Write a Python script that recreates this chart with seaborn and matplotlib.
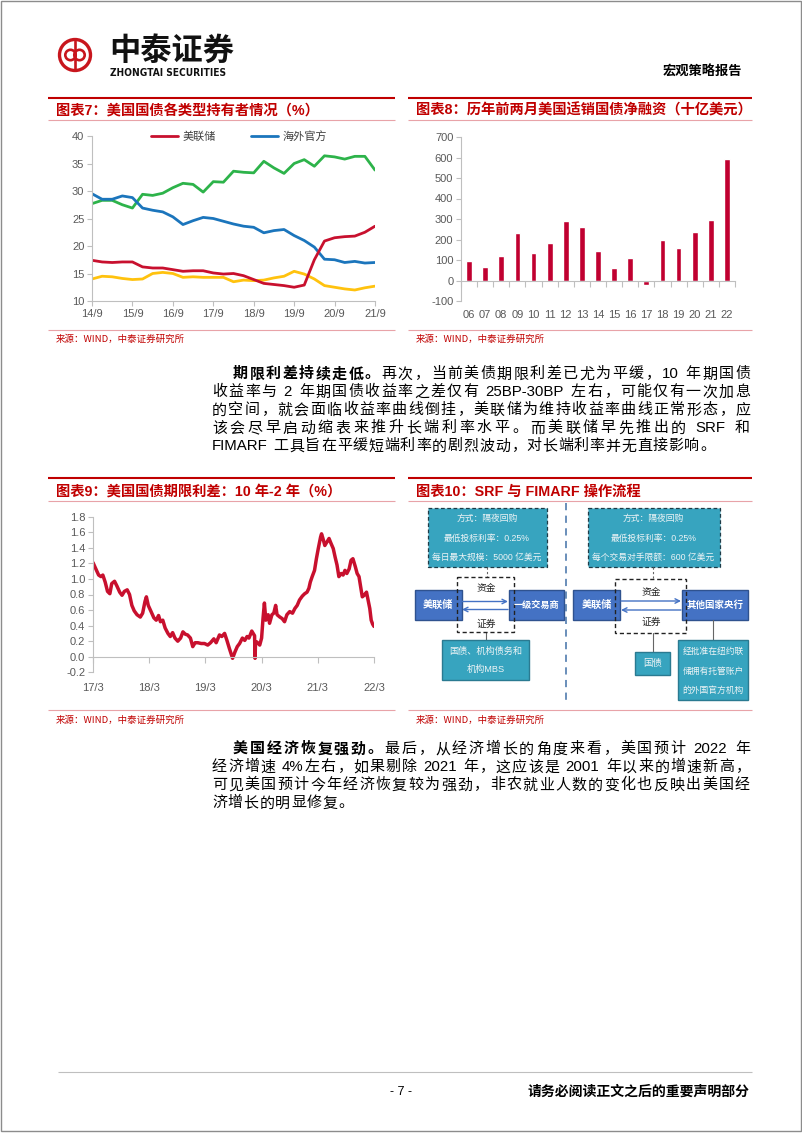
import re
import numpy as np
import pandas as pd
import matplotlib
matplotlib.use('Agg')
import matplotlib.pyplot as plt
import seaborn as sns
from matplotlib.patches import Rectangle, Circle

# ---------------- DATA ----------------
quarters7 = ['14/9', '14/12', '15/3', '15/6', '15/9', '15/12', '16/3', '16/6', '16/9', '16/12',
             '17/3', '17/6', '17/9', '17/12', '18/3', '18/6', '18/9', '18/12', '19/3', '19/6',
             '19/9', '19/12', '20/3', '20/6', '20/9', '20/12', '21/3', '21/6', '21/9']
fed7 = [17.4, 17.1, 17.0, 17.1, 17.1, 16.2, 16.0, 16.0, 15.7, 15.4, 15.5, 15.5, 15.1, 14.9, 15.0,
        14.6, 13.9, 13.2, 13.0, 12.8, 12.5, 12.9, 17.5, 20.9, 21.5, 21.7, 21.8, 22.5, 23.6]
foreign_official7 = [29.5, 28.5, 28.5, 29.1, 28.8, 26.9, 26.5, 26.2, 25.3, 23.9, 24.6, 25.2, 25.0, 24.5,
                     24.0, 23.6, 23.4, 22.4, 22.8, 23.0, 21.9, 21.0, 19.8, 17.6, 17.5, 17.0, 17.2, 16.9, 17.0]
other7 = [27.7, 28.3, 28.3, 27.5, 26.9, 29.4, 29.2, 29.6, 30.6, 31.4, 31.2, 29.8, 31.7, 31.6, 33.6,
          33.4, 33.3, 35.4, 34.2, 33.2, 35.0, 35.7, 34.5, 36.4, 36.2, 35.8, 36.3, 36.3, 33.8]
foreign_private7 = [14.0, 14.5, 14.4, 14.1, 13.9, 14.0, 15.0, 15.2, 15.0, 14.3, 14.4, 14.3, 14.3, 14.3,
                    13.5, 13.8, 13.7, 13.8, 14.2, 14.5, 15.4, 14.9, 14.0, 12.8, 12.5, 12.2, 12.0, 12.4, 12.7]
xticks7 = ['14/9', '15/9', '16/9', '17/9', '18/9', '19/9', '20/9', '21/9']
yticks7 = [10, 15, 20, 25, 30, 35, 40]

years8 = ['06', '07', '08', '09', '10', '11', '12', '13', '14', '15', '16', '17', '18', '19', '20', '21', '22']
net8 = [97, 67, 121, 230, 134, 185, 289, 262, 145, 63, 111, -20, 199, 160, 238, 293, 594]
yticks8 = [-100, 0, 100, 200, 300, 400, 500, 600, 700]

months9 = [0.0, 0.6, 1.2, 1.7, 2.1, 2.6, 3.1, 3.6, 4.0, 4.6,
           5.1, 5.7, 6.2, 6.7, 7.3, 7.8, 8.3, 8.8, 9.4, 10.1,
           10.6, 11.1, 11.4, 11.8, 12.4, 13.0, 13.5, 14.0, 14.4, 14.9,
           15.4, 16.0, 16.5, 17.0, 17.5, 18.1, 18.7, 19.2, 19.7, 20.2,
           20.8, 21.3, 21.8, 22.4, 23.1, 23.8, 24.5, 25.1, 25.8, 26.3,
           27.0, 27.5, 28.1, 28.6, 29.1, 29.8, 30.3, 30.8, 31.3, 31.9,
           32.4, 32.9, 33.3, 33.9, 34.5, 34.6, 34.7, 35.0, 35.6, 36.0,
           36.3, 36.6, 36.9, 37.4, 37.7, 38.2, 38.6, 39.0, 39.3, 39.9,
           40.4, 40.9, 41.4, 42.0, 42.6, 43.1, 43.6, 44.1, 44.7, 45.2,
           45.7, 46.1, 46.4, 46.8, 47.3, 47.7, 48.1, 48.6, 48.8, 49.1,
           49.5, 50.0, 50.4, 50.8, 51.3, 51.7, 52.1, 52.5, 53.0, 53.4,
           53.8, 54.2, 54.7, 55.1, 55.5, 56.0, 56.4, 56.8, 57.2, 57.5,
           57.9, 58.4, 58.8, 59.1, 59.4, 59.7, 60.0]
spread9 = [1.21, 1.13, 1.05, 1.03, 1.05, 0.96, 0.84, 0.81, 0.94, 0.97,
           0.91, 0.83, 0.79, 0.84, 0.86, 0.80, 0.66, 0.59, 0.54, 0.51,
           0.56, 0.71, 0.77, 0.66, 0.58, 0.50, 0.47, 0.53, 0.45, 0.47,
           0.37, 0.30, 0.26, 0.31, 0.24, 0.20, 0.24, 0.32, 0.29, 0.28,
           0.24, 0.13, 0.18, 0.18, 0.17, 0.17, 0.15, 0.18, 0.23, 0.18,
           0.28, 0.26, 0.30, 0.21, 0.11, -0.02, 0.06, 0.13, 0.17, 0.24,
           0.21, 0.26, 0.24, 0.33, 0.27, -0.02, 0.17, 0.19, 0.15, 0.24,
           0.49, 0.69, 0.47, 0.54, 0.43, 0.54, 0.56, 0.66, 0.54, 0.51,
           0.49, 0.45, 0.54, 0.58, 0.56, 0.62, 0.66, 0.73, 0.78, 0.81,
           0.83, 0.88, 0.96, 1.03, 1.11, 1.26, 1.39, 1.54, 1.58, 1.52,
           1.43, 1.48, 1.52, 1.46, 1.39, 1.28, 1.18, 1.03, 1.07, 1.05,
           1.11, 1.07, 1.13, 1.24, 1.26, 1.16, 1.07, 1.03, 0.88, 0.77,
           0.79, 0.83, 0.71, 0.62, 0.47, 0.42, 0.39]
xticks9 = ['17/3', '18/3', '19/3', '20/3', '21/3', '22/3']
yticks9 = [-0.2, 0.0, 0.2, 0.4, 0.6, 0.8, 1.0, 1.2, 1.4, 1.6, 1.8]

para1 = [
    [("期限利差持续走低。", "bold"), ("再次，当前美债期限利差已尤为平缓，10 年期国债", "normal")],
    [("收益率与 2 年期国债收益率之差仅有 25BP-30BP 左右，可能仅有一次加息", "normal")],
    [("的空间，就会面临收益率曲线倒挂，美联储为维持收益率曲线正常形态，应", "normal")],
    [("该会尽早启动缩表来推升长端利率水平。而美联储早先推出的 SRF 和", "normal")],
    [("FIMARF 工具旨在平缓短端利率的剧烈波动，对长端利率并无直接影响。", "normal")],
]
para2 = [
    [("美国经济恢复强劲。", "bold"), ("最后，从经济增长的角度来看，美国预计 2022 年", "normal")],
    [("经济增速 4%左右，如果剔除 2021 年，这应该是 2001 年以来的增速新高，", "normal")],
    [("可见美国预计今年经济恢复较为强劲，非农就业人数的变化也反映出美国经", "normal")],
    [("济增长的明显修复。", "normal")],
]

# ---------------- STYLE ----------------
sns.set_theme(style='white')
CJK = ['Noto Sans CJK SC', 'DejaVu Sans']
BODY = ['Liberation Sans', 'Noto Sans CJK SC', 'DejaVu Sans']
ARIAL = ['Liberation Sans', 'DejaVu Sans']
plt.rcParams['font.family'] = CJK
plt.rcParams['axes.unicode_minus'] = False

RED_T = '#C00000'
PINK = '#E8A3A8'
GRAY = '#BFBFBF'
TICKC = '#595959'
PX = 72 / 100.0  # points per pixel

W, H = 802, 1133
fig = plt.figure(figsize=(W / 100, H / 100), dpi=100)
fig.patch.set_facecolor('white')
pg = fig.add_axes([0, 0, 1, 1])
pg.set_xlim(0, W)
pg.set_ylim(H, 0)
pg.axis('off')
renderer = fig.canvas.get_renderer()


def add_axes_px(l, t, r, b):
    ax = fig.add_axes([l / W, 1 - b / H, (r - l) / W, (b - t) / H])
    ax.set_facecolor('none')
    return ax


def style_axes(ax):
    for s in ['top', 'right']:
        ax.spines[s].set_visible(False)
    for s in ['left', 'bottom']:
        ax.spines[s].set_color(GRAY)
        ax.spines[s].set_linewidth(0.8)
    ax.tick_params(axis='both', which='both', direction='out', color=GRAY, width=0.8,
                   length=3.5, labelsize=8, labelcolor=TICKC, pad=2,
                   left=True, bottom=True)
    ax.grid(False)
    ax.set_xlabel('')
    ax.set_ylabel('')


def hline(x0, x1, y, color, lw):
    pg.plot([x0, x1], [y, y], color=color, lw=lw, solid_capstyle='butt')


def panel_frame(x0, x1, ytop, ytitle, yline, ybot, ysrc, title):
    hline(x0, x1, ytop, RED_T, 1.5)
    pg.text(x0 + 8, ytitle, title, color=RED_T, fontsize=10.3, fontweight='bold',
            va='center', ha='left', family=BODY)
    hline(x0, x1, yline, PINK, 0.8)
    hline(x0, x1, ybot, PINK, 0.8)
    pg.text(x0 + 8, ysrc, "来源：WIND，中泰证券研究所", color=RED_T, fontsize=6.8,
            va='center', ha='left', family=CJK)


def put_line(segs, x0, x1, yc, size, justify, track=0.0):
    items = []
    for text, weight in segs:
        for tok in re.findall(r'[A-Za-z0-9%.\-]+| |.', text):
            items.append((tok, weight))
    objs, widths = [], []
    for tok, wgt in items:
        if tok == ' ':
            objs.append(None)
            widths.append(0.28 * size / PX)
            continue
        t = pg.text(0, yc + 0.36 * size / PX, tok, fontsize=size, fontweight=wgt,
                    family=BODY, va='baseline', ha='left', color='black')
        widths.append(t.get_window_extent(renderer).width)
        objs.append(t)
    total = sum(widths)
    gap = (x1 - x0 - total) / (len(items) - 1) if (justify and len(items) > 1) else track
    x = x0
    for o, wd in zip(objs, widths):
        if o is not None:
            o.set_x(x)
        x += wd + gap


def put_para(lines, y0, dy, size=10.8):
    for i, segs in enumerate(lines):
        x0 = 233 if i == 0 else 212
        put_line(segs, x0, 750, y0 + i * dy, size, justify=(i < len(lines) - 1), track=0.8)


# ---------------- PAGE HEADER / FOOTER ----------------
pg.add_patch(Rectangle((0.5, 0.5), W - 1.5, H - 2.5, fill=False, edgecolor='#8C8C8C', lw=1))
LOGO = '#C8161D'
pg.add_patch(Circle((75, 55), 15.5, fill=False, edgecolor=LOGO, lw=2.4))
pg.add_patch(Circle((70.5, 55), 5.2, fill=False, edgecolor=LOGO, lw=1.9))
pg.add_patch(Circle((79.5, 55), 5.2, fill=False, edgecolor=LOGO, lw=1.9))
pg.plot([75, 75], [41, 69], color=LOGO, lw=1.9)
pg.text(109, 51, "中泰证券", fontsize=22.5, fontweight='bold', color='#111111',
        va='center', ha='left', family=CJK)
pg.text(110, 73.5, "ZHONGTAI SECURITIES", fontsize=7.3, fontweight='bold', color='#111111',
        va='center', ha='left', family=['Liberation Sans Narrow', 'DejaVu Sans'], fontstretch='condensed')
pg.text(742, 72, "宏观策略报告", fontsize=9.5, fontweight='bold', color='black',
        va='center', ha='right', family=CJK)

hline(58, 752, 1072, GRAY, 0.8)
pg.text(401, 1092, "- 7 -", fontsize=9, color='black', va='center', ha='center', family=ARIAL)
pg.text(750, 1092, "请务必阅读正文之后的重要声明部分", fontsize=10, fontweight='bold',
        color='black', va='center', ha='right', family=CJK)

# ---------------- PANEL FRAMES ----------------
panel_frame(48, 395, 98, 110.5, 120, 330, 339.5, "图表7：美国国债各类型持有者情况（%）")
panel_frame(408, 752, 98, 110.5, 120, 330, 339.5, "图表8：历年前两月美国适销国债净融资（十亿美元）")
panel_frame(48, 395, 478, 491.5, 500.5, 710, 720, "图表9：美国国债期限利差：10 年-2 年（%）")
panel_frame(408, 752, 478, 491.5, 500.5, 710, 720, "图表10：SRF 与 FIMARF 操作流程")

# ---------------- CHART 7 ----------------
ax7 = add_axes_px(92, 136, 375, 301)
q = np.arange(len(quarters7))
sns.lineplot(x=q, y=other7, ax=ax7, color='#2DB34A', lw=2, legend=False)
sns.lineplot(x=q, y=foreign_private7, ax=ax7, color='#FFC20E', lw=2, legend=False)
sns.lineplot(x=q, y=foreign_official7, ax=ax7, color='#1B75BC', lw=2, legend=False)
sns.lineplot(x=q, y=fed7, ax=ax7, color='#C8102E', lw=2, legend=False)
lines7 = ax7.get_lines()
style_axes(ax7)
ax7.set_xlim(0, len(quarters7) - 1)
ax7.set_ylim(10, 40)
ax7.set_xticks([quarters7.index(t) for t in xticks7], xticks7, fontfamily=ARIAL)
ax7.set_yticks(yticks7, [str(v) for v in yticks7], fontfamily=ARIAL)
ax7.legend([lines7[3], lines7[2]], ['美联储', '海外官方'], loc='center',
           bbox_to_anchor=(0.52, 1.0), ncol=2, frameon=False,
           prop={'family': CJK, 'size': 8}, handlelength=2.4, columnspacing=3.2,
           handletextpad=0.4, labelcolor='#404040')

# ---------------- CHART 8 ----------------
ax8 = add_axes_px(461, 137, 735, 301)
sns.barplot(x=years8, y=net8, ax=ax8, color='#C00030', saturation=1, width=0.36)
style_axes(ax8)
ax8.set_xlim(-0.5, len(years8) - 0.5)
ax8.set_ylim(-100, 700)
ax8.spines['bottom'].set_position(('data', 0))
ax8.set_xticks(range(len(years8)), years8, fontfamily=ARIAL)
ax8.set_xticks(np.arange(-0.5, len(years8), 1.0), minor=True)
ax8.tick_params(axis='x', which='major', length=0, pad=29 * PX)
ax8.tick_params(axis='x', which='minor', length=4, color=GRAY)
ax8.set_yticks(yticks8, [str(v) for v in yticks8], fontfamily=ARIAL)

# ---------------- CHART 9 ----------------
ax9 = add_axes_px(93, 516.7, 374, 672.3)
sns.lineplot(x=months9, y=spread9, ax=ax9, color='#C8102E', lw=2.5, sort=False,
             estimator=None, legend=False)
style_axes(ax9)
ax9.set_xlim(0, 60)
ax9.set_ylim(-0.2, 1.8)
ax9.spines['bottom'].set_position(('data', 0))
ax9.set_xticks([12 * i for i in range(len(xticks9))], xticks9, fontfamily=ARIAL)
ax9.tick_params(axis='x', which='major', length=4, pad=21 * PX)
ax9.set_yticks(yticks9, [f"{v:.1f}" for v in yticks9], fontfamily=ARIAL)

# ---------------- CHART 10 (diagram) ----------------
TEAL = '#37A4BF'
TEAL_E = '#2A7A91'
BLUE = '#4472C4'
BLUE_E = '#2F528F'
TXT_L = '#EEF4F6'


def box(x, y, w, h, fc, ec, ls='-', lw=1.0, z=2):
    pg.add_patch(Rectangle((x, y), w, h, facecolor=fc, edgecolor=ec, ls=ls, lw=lw, zorder=z))


def arrow(x0, x1, y):
    pg.annotate('', xy=(x1, y), xytext=(x0, y),
                arrowprops=dict(arrowstyle='->', color=BLUE, lw=1.0, shrinkA=0, shrinkB=0,
                                mutation_scale=8), zorder=4)


pg.plot([566, 566], [503, 700], color='#5E86B4', lw=1.3, ls=(0, (4, 3)))

# left
box(428, 508, 118.5, 59, TEAL, '#1E3C48', ls=(0, (3, 2)), lw=0.9)
for yy, s in zip([518.5, 538, 557.5], ["方式：隔夜回购", "最低投标利率：0.25%", "每日最大规模：5000 亿美元"]):
    pg.text(487, yy, s, fontsize=6.3, color=TXT_L, ha='center', va='center', family=BODY, zorder=5)
pg.plot([487, 487], [567, 577], color='#666666', lw=0.8, ls=(0, (2, 2)))
box(415, 590, 46.5, 30, BLUE, BLUE_E)
box(509, 590, 54.5, 30, BLUE, BLUE_E)
box(457, 577, 57, 55, 'none', '#222222', ls=(0, (3, 2)), lw=1.0, z=3)
pg.text(438, 605, "美联储", fontsize=7.3, fontweight='bold', color='white', ha='center', va='center', zorder=5)
pg.text(536, 605, "一级交易商", fontsize=6.6, fontweight='bold', color='white', ha='center', va='center', zorder=5)
arrow(462, 508, 601.5)
arrow(508, 462, 609.5)
pg.text(486, 587.5, "资金", fontsize=7, color='#222222', ha='center', va='center', zorder=5)
pg.text(486, 623.5, "证券", fontsize=7, color='#222222', ha='center', va='center', zorder=5)
pg.plot([486, 486], [632, 640], color='#666666', lw=0.8)
box(442, 640, 87, 40, TEAL, TEAL_E)
pg.text(485.5, 651.5, "国债、机构债务和", fontsize=6.6, color=TXT_L, ha='center', va='center', zorder=5)
pg.text(485.5, 669.5, "机构MBS", fontsize=6.6, color=TXT_L, ha='center', va='center', family=BODY, zorder=5)

# right
box(588, 508, 131.5, 59, TEAL, '#1E3C48', ls=(0, (3, 2)), lw=0.9)
for yy, s in zip([518.5, 538, 557.5], ["方式：隔夜回购", "最低投标利率：0.25%", "每个交易对手限额：600 亿美元"]):
    pg.text(653.5, yy, s, fontsize=6.3, color=TXT_L, ha='center', va='center', family=BODY, zorder=5)
pg.plot([653.3, 653.3], [567, 579], color='#666666', lw=0.8, ls=(0, (2, 2)))
box(573.3, 590, 46.7, 30, BLUE, BLUE_E)
box(681.7, 590, 66.6, 30, BLUE, BLUE_E)
box(615, 579, 71, 54, 'none', '#222222', ls=(0, (3, 2)), lw=1.0, z=3)
pg.text(596.7, 605, "美联储", fontsize=7.3, fontweight='bold', color='white', ha='center', va='center', zorder=5)
pg.text(715, 605, "其他国家央行", fontsize=6.8, fontweight='bold', color='white', ha='center', va='center', zorder=5)
arrow(621, 681, 601)
arrow(681, 621, 610)
pg.text(651.5, 592, "资金", fontsize=7, color='#222222', ha='center', va='center', zorder=5)
pg.text(651.5, 622, "证券", fontsize=7, color='#222222', ha='center', va='center', zorder=5)
pg.plot([653.3, 653.3], [633, 652], color='#666666', lw=0.8)
box(635, 652, 35, 23, TEAL, TEAL_E)
pg.text(652.5, 663.5, "国债", fontsize=6.8, color=TXT_L, ha='center', va='center', zorder=5)
pg.plot([713.3, 713.3], [620, 640], color='#666666', lw=0.8)
box(678.3, 640, 70, 60, TEAL, TEAL_E)
for yy, s in zip([651.5, 671, 690.5], ["经批准在纽约联", "储拥有托管账户", "的外国官方机构"]):
    pg.text(713.3, yy, s, fontsize=6.3, color=TXT_L, ha='center', va='center', zorder=5)

# ---------------- BODY TEXT ----------------
put_para(para1, 373, 18)
put_para(para2, 748, 18)

fig.savefig('out.png', dpi=100)
